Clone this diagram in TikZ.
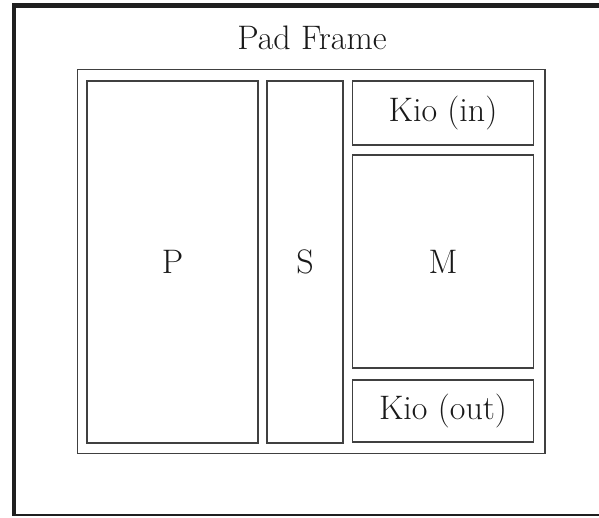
\documentclass[tikz,border=0pt]{standalone}
\begin{document}
\begin{tikzpicture}[x=1pt,y=-1pt,
  txt/.style={font=\fontsize{34}{40}\selectfont, text=black!90},
  box/.style={draw=black!75, line width=1.3pt, inner sep=0pt, txt},
  frameline/.style={draw=black!88}]
\useasboundingbox (0,0) rectangle (599,517);
\clip (0,0) rectangle (599,517);
\draw[frameline, line width=5pt] (12,5.5) -- (610,5.5);
\draw[frameline, line width=4pt] (13.5,4) -- (13.5,516);
\draw[frameline, line width=2.5pt] (12,515) -- (610,515);
\node[box, minimum width=467.5pt, minimum height=384pt] (pad) at (311.25,261.5) {};
\node[txt, anchor=base] (padlabel) at (312,49) {Pad Frame};
\node[box, minimum width=171pt, minimum height=362pt] (P) at (172.5,262) {P};
\node[box, minimum width=76pt, minimum height=362pt] (S) at (305,262) {S};
\node[box, minimum width=181pt, minimum height=64pt] (kin) at (443,113) {Kio (in)};
\node[box, minimum width=181pt, minimum height=213pt] (M) at (443,261.5) {M};
\node[box, minimum width=181pt, minimum height=62pt] (kout) at (443,411) {Kio (out)};
\end{tikzpicture}
\end{document}
